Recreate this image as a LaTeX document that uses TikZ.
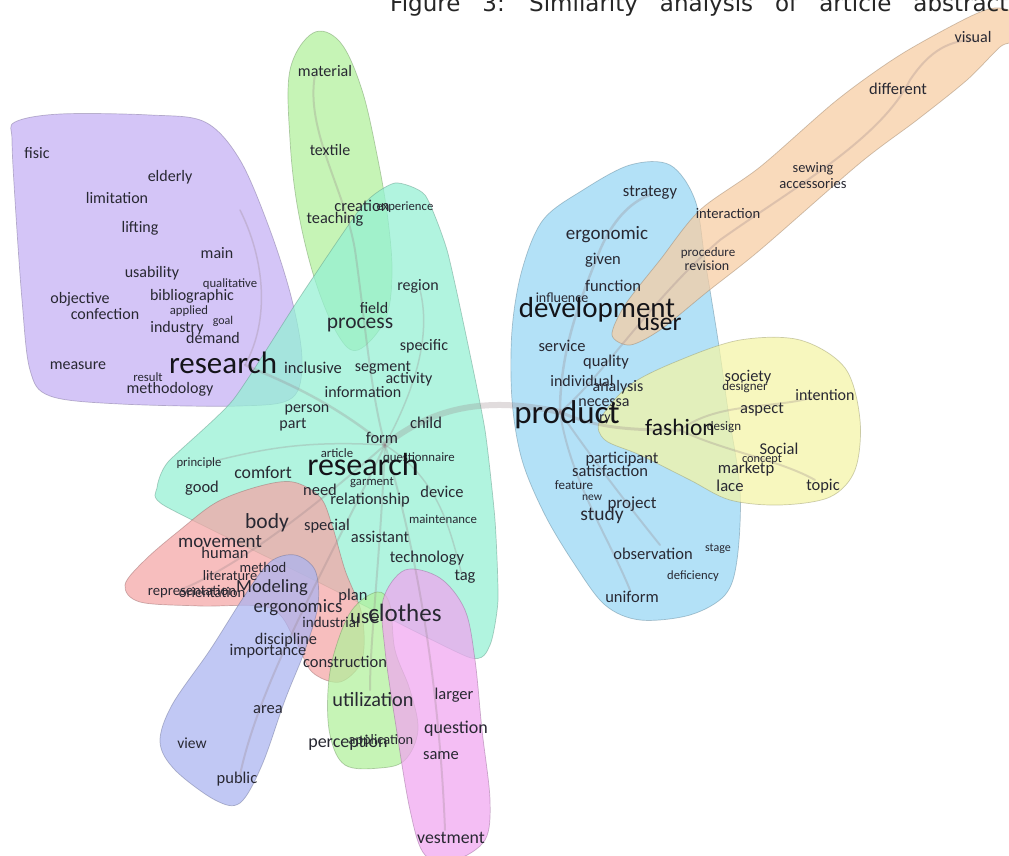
\documentclass[tikz,border=0pt]{standalone}
\usepackage{fontspec}
\setmainfont{Carlito}
\newfontfamily\titlefont{DejaVu Sans}
\definecolor{wordc}{RGB}{40,40,50}
\definecolor{bigc}{RGB}{20,20,25}
\definecolor{purpleF}{RGB}{196,176,245}
\definecolor{greenF}{RGB}{177,241,155}
\definecolor{cyanF}{RGB}{148,241,212}
\definecolor{blueF}{RGB}{150,214,245}
\definecolor{orangeF}{RGB}{248,205,162}
\definecolor{yellowF}{RGB}{245,245,165}
\definecolor{redF}{RGB}{245,165,165}
\definecolor{periF}{RGB}{170,180,241}
\definecolor{magentaF}{RGB}{241,165,241}
\definecolor{branchc}{RGB}{150,130,135}
\tikzset{
  blob/.style={fill=#1, fill opacity=0.72, draw=#1!60!black, draw opacity=0.45, line width=0.7pt},
  br/.style={draw=branchc, draw opacity=0.28, line width=#1, line cap=round},
  w/.style={inner sep=0pt, text=wordc, font=\fontsize{#1}{#1}\selectfont},
  wb/.style={inner sep=0pt, text=bigc, font=\fontsize{#1}{#1}\selectfont},
}
\begin{document}
\begin{tikzpicture}[x=1pt,y=-1pt]
\useasboundingbox (0,0) rectangle (1009,856);
\clip (0,0) rectangle (1009,856);
\fill[white] (0,0) rectangle (1009,856);

% ---------- hulls ----------
\path[blob=purpleF] plot[smooth cycle, tension=0.55] coordinates {(15,122) (60,114) (150,115) (205,122) (240,160) (270,230) (292,300) (302,360) (292,398) (240,406) (120,404) (50,396) (30,370) (22,300) (15,200) (12,140)};
\path[blob=greenF] plot[smooth cycle, tension=0.6] coordinates {(313,33) (340,42) (362,90) (378,160) (388,220) (392,275) (385,320) (358,350) (338,335) (315,280) (298,210) (290,140) (290,70)};
\path[blob=cyanF] plot[smooth cycle, tension=0.35] coordinates {(395,183) (425,195) (447,250) (467,340) (485,430) (495,520) (498,600) (490,645) (468,657) (320,583) (165,506) (157,488) (168,462) (233,400) (300,297) (363,205)};
\path[blob=redF] plot[smooth cycle, tension=0.55] coordinates {(125,585) (145,560) (180,530) (217,502) (260,486) (293,482) (320,497) (332,525) (345,570) (362,615) (362,660) (340,682) (312,672) (295,640) (270,608) (200,606) (140,602)};
\path[blob=periF] plot[smooth cycle, tension=0.55] coordinates {(270,562) (295,555) (315,570) (318,605) (305,650) (285,700) (262,765) (240,803) (215,800) (175,770) (160,742) (172,705) (210,650) (245,595)};
\path[blob=greenF] plot[smooth cycle, tension=0.6] coordinates {(377,592) (390,605) (395,650) (410,690) (418,730) (405,760) (380,768) (345,765) (330,735) (328,690) (335,650) (352,610)};
\path[blob=magentaF] plot[smooth cycle, tension=0.55] coordinates {(405,570) (440,578) (465,610) (475,660) (482,730) (490,800) (485,840) (455,860) (425,855) (410,810) (395,720) (385,650) (383,600)};
\path[blob=blueF] plot[smooth cycle, tension=0.55] coordinates {(543,220) (583,190) (630,165) (670,165) (695,200) (705,260) (718,340) (728,410) (740,490) (737,560) (725,595) (690,615) (640,620) (605,605) (575,565) (545,515) (522,460) (512,400) (512,330) (522,270)};
\path[blob=orangeF] plot[smooth cycle, tension=0.5] coordinates {(612,335) (625,305) (660,260) (700,210) (760,167) (837,100) (900,55) (967,18) (995,8) (1014,14) (1014,40) (1000,47) (967,80) (917,120) (860,163) (760,250) (707,292) (660,330) (630,345)};
\path[blob=yellowF] plot[smooth cycle, tension=0.55] coordinates {(600,420) (630,385) (680,360) (740,340) (800,340) (845,368) (860,420) (855,470) (830,497) (780,505) (730,500) (690,480) (640,455) (605,440)};

% ---------- tree branches ----------
\coordinate (hubL) at (385,445);
\coordinate (hubR) at (560,412);
\coordinate (hubF) at (680,430);
\draw[br=6pt] (hubL) .. controls (430,410) and (480,395) .. (hubR);
\draw[br=2.5pt] (hubL) .. controls (330,400) and (280,380) .. (245,365);
\draw[br=1.5pt] (245,365) .. controls (270,320) and (265,260) .. (240,210);
\draw[br=2pt] (hubL) .. controls (370,390) and (365,320) .. (355,250) .. controls (345,190) and (305,130) .. (315,75);
\draw[br=2pt] (hubL) .. controls (420,560) and (440,700) .. (445,830);
\draw[br=2pt] (hubL) .. controls (330,560) and (260,680) .. (240,775);
\draw[br=2pt] (hubL) .. controls (300,520) and (230,570) .. (180,590);
\draw[br=2pt] (hubL) .. controls (380,560) and (370,640) .. (370,690);
\draw[br=1.5pt] (hubL) .. controls (300,440) and (260,450) .. (210,462);
\draw[br=1.5pt] (hubL) .. controls (420,380) and (430,330) .. (420,290);
\draw[br=1.5pt] (hubL) .. controls (440,480) and (450,530) .. (462,575);
\draw[br=2.5pt] (hubR) .. controls (560,350) and (580,300) .. (600,250) .. controls (615,215) and (635,200) .. (650,195);
\draw[br=2pt] (hubR) .. controls (570,480) and (610,540) .. (630,590);
\draw[br=2pt] (hubR) .. controls (600,470) and (640,520) .. (660,545);
\draw[br=3pt] (hubR) .. controls (600,430) and (640,430) .. (hubF);
\draw[br=2pt] (hubF) .. controls (720,400) and (780,410) .. (820,395);
\draw[br=2pt] (hubF) .. controls (720,450) and (780,460) .. (815,480);
\draw[br=2pt] (hubR) .. controls (600,380) and (650,300) .. (720,240) .. controls (790,190) and (880,140) .. (910,80) .. controls (930,50) and (950,40) .. (975,40);

% ---------- title ----------
\node[anchor=base west, inner sep=0pt, text=black!85, font=\titlefont\fontsize{23}{23}\selectfont] (title) at (390,12) {\spaceskip=22pt\relax Figure 3: Similarity analysis of article abstracts};

% ---------- purple cluster ----------
\node[w=16] (fisic) at (37,153) {fisic};
\node[w=16] (elderly) at (170,177) {elderly};
\node[w=16] (limitation) at (117,198) {limitation};
\node[w=16] (lifting) at (140,228) {lifting};
\node[w=16] (main) at (217,253) {main};
\node[w=16] (usability) at (152,273) {usability};
\node[w=12.7] (qualitative) at (230,284) {qualitative};
\node[w=16] (objective) at (80,299) {objective};
\node[w=16] (bibliographic) at (192,296) {bibliographic};
\node[w=12.7] (applied) at (189,311) {applied};
\node[w=16] (confection) at (105,314) {confection};
\node[w=16] (industry) at (177,328) {industry};
\node[w=12] (goal) at (223,321) {goal};
\node[w=16] (demand) at (213,338) {demand};
\node[w=16] (measure) at (78,366) {measure};
\node[wb=31] (researchA) at (223,363) {research};
\node[w=12.7] (result) at (148,377) {result};
\node[w=16] (methodology) at (170,389) {methodology};

% ---------- green top ----------
\node[w=16] (material) at (325,71) {material};
\node[w=16] (textile) at (330,150) {textile};
\node[w=16.5] (creation) at (362,206) {creation};
\node[w=12.7] (experience) at (405,207) {experience};
\node[w=16.3] (teaching) at (335,219) {teaching};
\node[w=16] (field) at (374,308) {field};
\node[w=21.5] (process) at (360,325) {process};

% ---------- cyan cluster ----------
\node[w=16] (region) at (418,286) {region};
\node[w=16] (specific) at (424,346) {specific};
\node[w=16.5] (inclusive) at (313,368) {inclusive};
\node[w=16] (segment) at (383,368) {segment};
\node[w=16] (activity) at (409,379) {activity};
\node[w=16] (information) at (363,392) {information};
\node[w=16] (person) at (307,410) {person};
\node[w=16] (part) at (293,425) {part};
\node[w=16.5] (child) at (426,423) {child};
\node[w=16.5] (form) at (382,438) {form};
\node[w=12.7] (article) at (337,453) {article};
\node[w=12.8] (questionnaire) at (419,458) {questionnaire};
\node[wb=32] (researchB) at (363,465) {research};
\node[w=12.7] (principle) at (199,463) {principle};
\node[w=17.8] (comfort) at (263,472) {comfort};
\node[w=16.5] (good) at (202,488) {good};
\node[w=16.5] (need) at (320,490) {need};
\node[w=12.7] (garment) at (372,483) {garment};
\node[w=16.5] (relationship) at (370,500) {relationship};
\node[w=16.5] (device) at (442,492) {device};
\node[w=12.8] (maintenance) at (443,519) {maintenance};
\node[w=21.5] (body) at (267,523) {body};
\node[w=16.5] (special) at (327,526) {special};
\node[w=16.5] (assistant) at (380,537) {assistant};
\node[w=16.5] (technology) at (427,558) {technology};
\node[w=16.5] (tag) at (465,577) {tag};

% ---------- lower left ----------
\node[w=19] (movement) at (220,542) {movement};
\node[w=16.5] (human) at (225,553) {human};
\node[w=14.6] (method) at (263,567) {method};
\node[w=14.4] (literature) at (230,576) {literature};
\node[w=14.7] (representation) at (192,592) {representation};
\node[w=14.7] (orientation) at (212,592) {orientation};
\node[w=18.6] (Modeling) at (272,588) {Modeling};
\node[w=16.5] (plan) at (353,596) {plan};
\node[w=18.8] (ergonomics) at (298,608) {ergonomics};
\node[w=15] (industrial) at (331,622) {industrial};
\node[w=21] (use) at (365,618) {use};
\node[w=25] (clothes) at (405,613) {clothes};
\node[w=16.3] (discipline) at (286,640) {discipline};
\node[w=16.4] (importance) at (268,651) {importance};
\node[w=16.5] (construction) at (345,662) {construction};
\node[w=20.3] (utilization) at (373,700) {utilization};
\node[w=16.5] (larger) at (454,695) {larger};
\node[w=18] (question) at (456,729) {question};
\node[w=16.5] (area) at (268,710) {area};
\node[w=15.5] (view) at (192,743) {view};
\node[w=18] (perception) at (348,743) {perception};
\node[w=14.4] (application) at (381,741) {application};
\node[w=16.5] (same) at (441,756) {same};
\node[w=16.5] (public) at (237,779) {public};
\node[w=17.8] (vestment) at (451,838) {vestment};

% ---------- blue cluster ----------
\node[w=16.6] (strategy) at (650,193) {strategy};
\node[w=19] (ergonomic) at (607,235) {ergonomic};
\node[w=16.5] (given) at (603,260) {given};
\node[w=16.5] (function) at (613,286) {function};
\node[w=13] (procedure) at (708,253) {procedure};
\node[w=14] (revision) at (707,266) {revision};
\node[w=14] (influence) at (562,298) {influence};
\node[wb=29] (development) at (597,310) {development};
\node[wb=25.5] (user) at (659,324) {user};
\node[w=16.5] (service) at (562,346) {service};
\node[w=16.5] (quality) at (606,362) {quality};
\node[w=16] (individual) at (582,381) {individual};
\node[w=16] (analysis) at (618,387) {analysis};
\node[w=16] (necessa) at (604,403) {necessa};
\node[w=14] (ry) at (605,419) {ry};
\node[wb=33] (product) at (567,415) {product};
\node[w=13] (design) at (724,427) {design};
\node[wb=23.5] (fashion) at (680,427) {fashion};
\node[w=16.5] (participant) at (622,459) {participant};
\node[w=16.5] (satisfaction) at (610,471) {satisfaction};
\node[w=13] (feature) at (574,485) {feature};
\node[w=11.5] (new) at (592,498) {new};
\node[w=17] (project) at (632,504) {project};
\node[w=19.5] (study) at (602,515) {study};
\node[w=16.5] (observation) at (653,554) {observation};
\node[w=12] (stage) at (718,549) {stage};
\node[w=12.6] (deficiency) at (693,576) {deficiency};
\node[w=16.5] (uniform) at (632,597) {uniform};

% ---------- yellow cluster ----------
\node[w=16.4] (society) at (748,377) {society};
\node[w=13] (designer) at (745,387) {designer};
\node[w=16] (intention) at (825,395) {intention};
\node[w=16.5] (aspect) at (762,410) {aspect};
\node[w=16.5] (Social) at (779,449) {Social};
\node[w=12.3] (concept) at (762,460) {concept};
\node[w=16.6] (marketp) at (746,469) {marketp};
\node[w=16.6] (lace) at (730,486) {lace};
\node[w=16.5] (topic) at (823,486) {topic};

% ---------- orange cluster ----------
\node[w=16] (visual) at (973,37) {visual};
\node[w=16.5] (different) at (898,89) {different};
\node[w=14.4] (sewing) at (813,169) {sewing};
\node[w=14.6] (accessories) at (813,184) {accessories};
\node[w=14.6] (interaction) at (728,214) {interaction};
\end{tikzpicture}
\end{document}
